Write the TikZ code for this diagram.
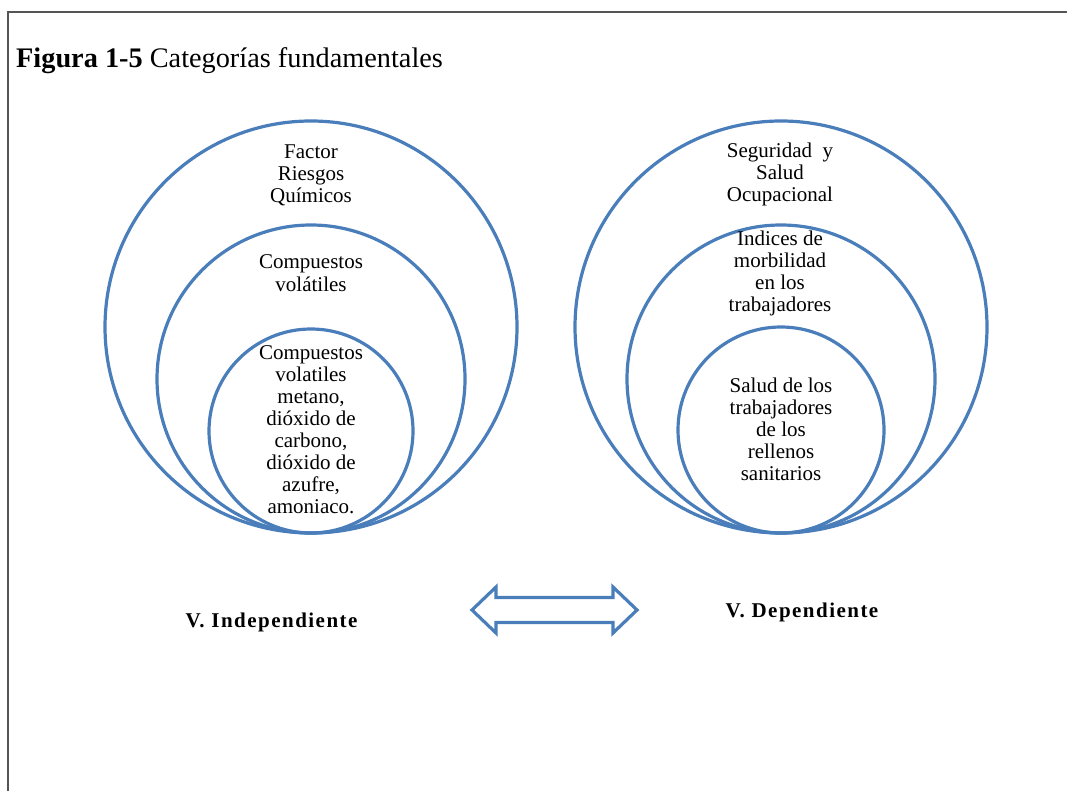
\documentclass[tikz,border=0pt]{standalone}
\usepackage{fontspec}
\setmainfont{Liberation Serif}
\newfontfamily\varfont[LetterSpace=7]{Liberation Serif}
\usetikzlibrary{calc}
\definecolor{ringblue}{RGB}{74,126,187}
\definecolor{framegray}{RGB}{85,85,85}

\begin{document}
\begin{tikzpicture}[x=1pt, y=-1pt,
	ring/.style={draw=ringblue, line width=3.2pt, circle, inner sep=0pt},
	lbl/.style={align=center, anchor=base, inner sep=0pt, font=\fontsize{21}{22}\selectfont},
	var/.style={anchor=base, inner sep=0pt, font=\varfont\bfseries\fontsize{21}{22}\selectfont}]
	\useasboundingbox (0,0) rectangle (1067,791);
	\draw[framegray, line width=1.8pt] (8,791) -- (8,12) -- (1067,12);
	\node[anchor=base west, inner sep=0pt, font=\fontsize{28.3}{30}\selectfont] (title) at (16,68) {\textbf{Figura 1-5} Categorías fundamentales};

	% circles, all touching at the bottom
	\foreach \n/\cx/\cy/\d in {indA/311/327/412, indB/311/379/308, indC/311/431/204,
		depA/781/327/412, depB/781/379/308, depC/781/430/206}
		\node[ring, minimum size=\d] (\n) at (\cx,\cy) {};

	% base = last line of each text
	\node[lbl] (txtIndA) at (311,203) {Factor\\Riesgos\\Químicos};
	\node[lbl] (txtIndB) at (311,291) {Compuestos\\volátiles};
	\node[lbl] (txtIndC) at (311,513) {Compuestos\\volatiles\\metano,\\dióxido de\\carbono,\\dióxido de\\azufre,\\amoniaco.};
	\node[lbl] (txtDepA) at (780,202) {Seguridad~ y\\Salud\\Ocupacional};
	\node[lbl] (txtDepB) at (780,312) {Indices de\\morbilidad\\en los\\trabajadores};
	\node[lbl] (txtDepC) at (781,480) {Salud de los\\trabajadores\\de los\\rellenos\\sanitarios};

	\node[var] (vInd) at (271.5,627) {V. Independiente};
	\node[var] (vDep) at (802,617) {V. Dependiente};

	% double arrow between the two variables
	\draw[ringblue, line width=3.2pt, line join=miter] (472,610) -- (496,587) -- (496,597.5) -- (613,597.5) -- (613,587) -- (637,610)
		-- (613,633) -- (613,622.5) -- (496,622.5) -- (496,633) -- cycle;

\end{tikzpicture}
\end{document}
